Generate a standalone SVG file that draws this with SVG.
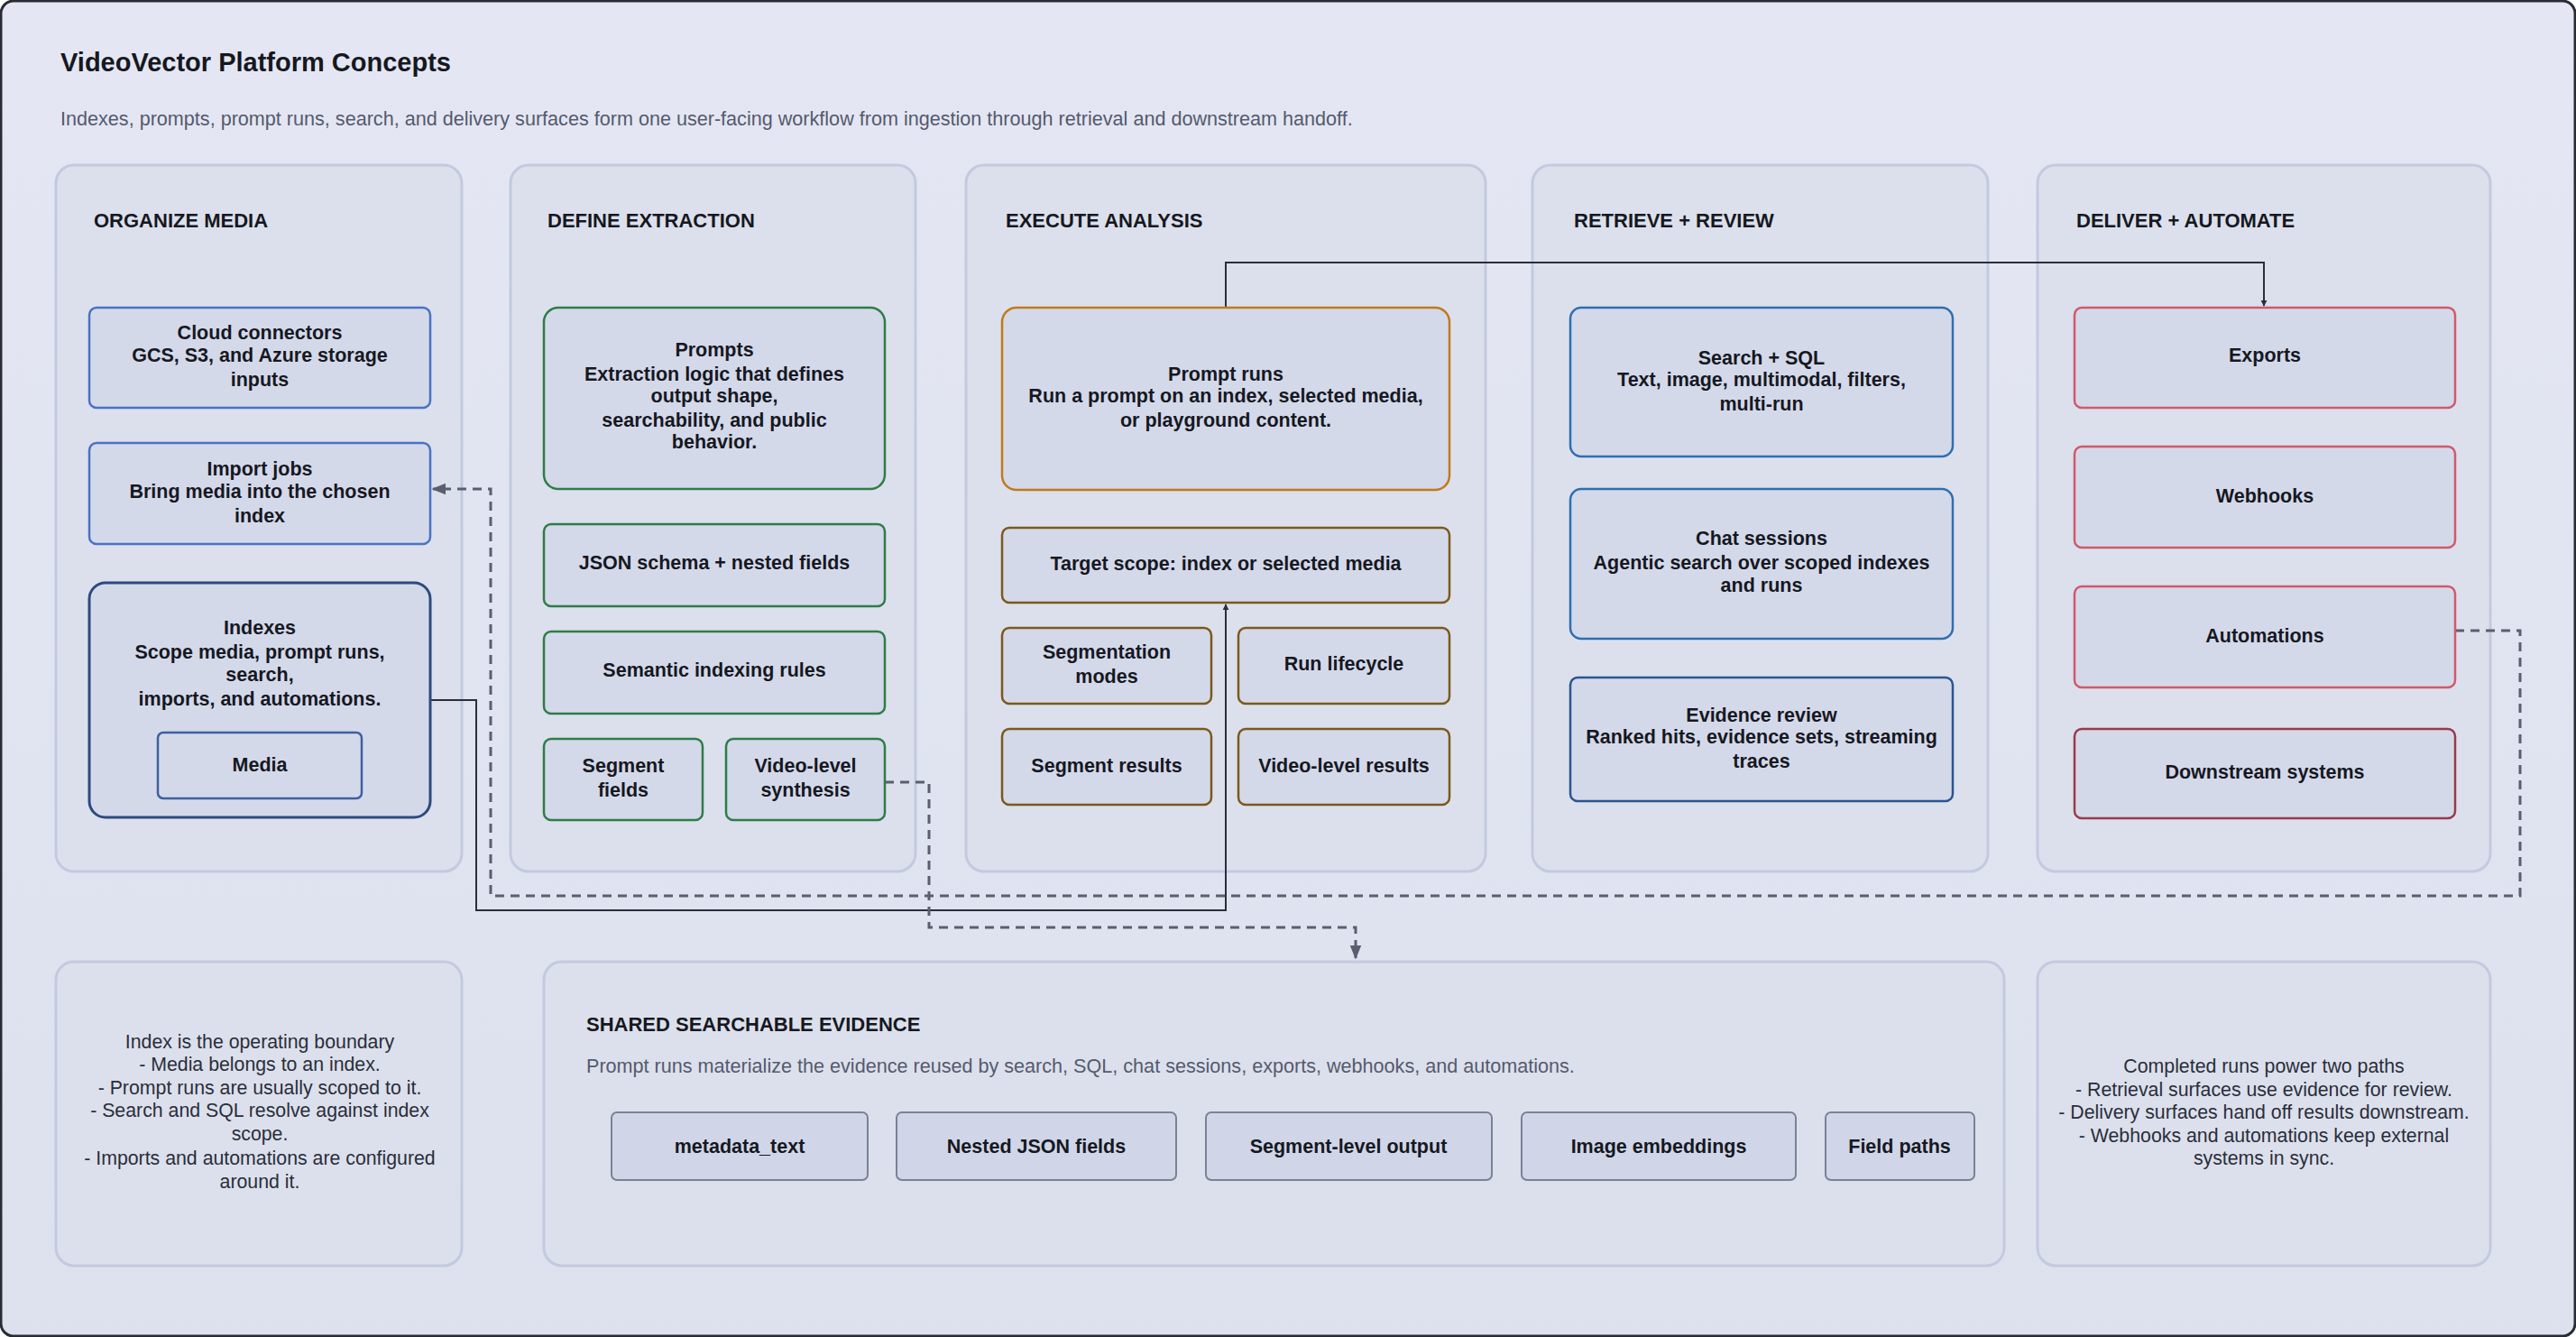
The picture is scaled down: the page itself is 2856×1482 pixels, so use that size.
<svg xmlns="http://www.w3.org/2000/svg" width="2856" height="1482" viewBox="0 0 2856 1482">
<defs>
<linearGradient id="bg" x1="0" y1="0" x2="0" y2="1"><stop offset="0" stop-color="#e4e7f3"/><stop offset="1" stop-color="#dde1ee"/></linearGradient>
<marker id="ah" viewBox="0 0 10 10" refX="9" refY="5" markerWidth="7" markerHeight="7" orient="auto-start-reverse" markerUnits="userSpaceOnUse"><path d="M0,0 L10,5 L0,10 z" fill="#2a2e3a"/></marker>
<marker id="ahg" viewBox="0 0 10 10" refX="9" refY="5" markerWidth="16" markerHeight="16" orient="auto" markerUnits="userSpaceOnUse"><path d="M0,1 L10,5 L0,9 z" fill="#5a5f70"/></marker>
</defs>
<style>
text{font-family:"Liberation Sans",Arial,sans-serif;}
.col{fill:#dce0ec;stroke:#c3c9df;stroke-width:3}
.ct{font-size:22px;font-weight:bold;fill:#16181f}
.n{fill:#d4d9ea;stroke-width:2.5}
.nt{font-size:21.5px;font-weight:bold;fill:#16181f;text-anchor:middle}
.b1{stroke:#4a72c4}.b1d{stroke:#2d4a80;stroke-width:3}.b1m{stroke:#3f5fa0}
.g{stroke:#2e7d46}.o{stroke:#c07a1a}.br{stroke:#7a5a1a}
.bl{stroke:#2f6fb0}.bld{stroke:#2a5590}.r{stroke:#d05a6a}.rd{stroke:#9a3a4a}
.note{font-size:21.3px;fill:#2a2e3a;text-anchor:middle}
.chip{fill:#d0d6e8;stroke:#7a8296;stroke-width:2}
.solid{fill:none;stroke:#2a2e3a;stroke-width:2}
.dash{fill:none;stroke:#5a5f70;stroke-width:3;stroke-dasharray:10 7}
.sub{font-size:21.6px;fill:#555a6e}
</style>
<rect x="1" y="1" width="2854" height="1480" rx="14" fill="url(#bg)" stroke="#2a2c34" stroke-width="3"/>
<text x="67" y="79" style="font-size:29px;font-weight:bold;fill:#16181f">VideoVector Platform Concepts</text>
<text class="sub" x="67" y="139">Indexes, prompts, prompt runs, search, and delivery surfaces form one user-facing workflow from ingestion through retrieval and downstream handoff.</text>

<g id="col-organize"><rect class="col" x="62" y="183" width="450" height="783" rx="20"/><text class="ct" x="104" y="252">ORGANIZE MEDIA</text></g>
<g id="col-define"><rect class="col" x="566" y="183" width="449" height="783" rx="20"/><text class="ct" x="607" y="252">DEFINE EXTRACTION</text></g>
<g id="col-execute"><rect class="col" x="1071" y="183" width="576" height="783" rx="20"/><text class="ct" x="1115" y="252">EXECUTE ANALYSIS</text></g>
<g id="col-retrieve"><rect class="col" x="1699" y="183" width="505" height="783" rx="20"/><text class="ct" x="1745" y="252">RETRIEVE + REVIEW</text></g>
<g id="col-deliver"><rect class="col" x="2259" y="183" width="502" height="783" rx="20"/><text class="ct" x="2302" y="252">DELIVER + AUTOMATE</text></g>

<g id="connectors">
<path class="solid" d="M1359,341 V291 H2510 V339" marker-end="url(#ah)"/>
<path class="solid" d="M477,776 H528 V1009 H1359 V670" marker-end="url(#ah)"/>
<path class="dash" d="M981,867 H1030 V1028 H1503 V1062" marker-end="url(#ahg)"/>
<path class="dash" d="M2722,699 H2794 V993 H544 V542 H480" marker-end="url(#ahg)"/>
</g>

<g id="n-cloud"><rect class="n b1" x="99" y="341" width="378" height="111" rx="8"/><text class="nt" x="288" y="376">Cloud connectors</text><text class="nt" x="288" y="401">GCS, S3, and Azure storage</text><text class="nt" x="288" y="428">inputs</text></g>
<g id="n-import"><rect class="n b1" x="99" y="491" width="378" height="112" rx="8"/><text class="nt" x="288" y="527">Import jobs</text><text class="nt" x="288" y="552">Bring media into the chosen</text><text class="nt" x="288" y="579">index</text></g>
<g id="n-indexes"><rect class="n b1d" x="99" y="646" width="378" height="260" rx="18"/><text class="nt" x="288" y="703">Indexes</text><text class="nt" x="288" y="730">Scope media, prompt runs,</text><text class="nt" x="288" y="755">search,</text><text class="nt" x="288" y="782">imports, and automations.</text></g>
<g id="n-media"><rect class="n b1m" x="175" y="812" width="226" height="73" rx="6"/><text class="nt" x="288" y="855">Media</text></g>

<g id="n-prompts"><rect class="n g" x="603" y="341" width="378" height="201" rx="16"/><text class="nt" x="792" y="395">Prompts</text><text class="nt" x="792" y="422">Extraction logic that defines</text><text class="nt" x="792" y="446">output shape,</text><text class="nt" x="792" y="473">searchability, and public</text><text class="nt" x="792" y="497">behavior.</text></g>
<g id="n-json"><rect class="n g" x="603" y="581" width="378" height="91" rx="8"/><text class="nt" x="792" y="631">JSON schema + nested fields</text></g>
<g id="n-semantic"><rect class="n g" x="603" y="700" width="378" height="91" rx="8"/><text class="nt" x="792" y="750">Semantic indexing rules</text></g>
<g id="n-segfields"><rect class="n g" x="603" y="819" width="176" height="90" rx="8"/><text class="nt" x="691" y="856">Segment</text><text class="nt" x="691" y="883">fields</text></g>
<g id="n-videosynth"><rect class="n g" x="805" y="819" width="176" height="90" rx="8"/><text class="nt" x="893" y="856">Video-level</text><text class="nt" x="893" y="883">synthesis</text></g>

<g id="n-promptruns"><rect class="n o" x="1111" y="341" width="496" height="202" rx="16"/><text class="nt" x="1359" y="422">Prompt runs</text><text class="nt" x="1359" y="446">Run a prompt on an index, selected media,</text><text class="nt" x="1359" y="473">or playground content.</text></g>
<g id="n-target"><rect class="n br" x="1111" y="585" width="496" height="83" rx="8"/><text class="nt" x="1359" y="632">Target scope: index or selected media</text></g>
<g id="n-segmodes"><rect class="n br" x="1111" y="696" width="232" height="84" rx="8"/><text class="nt" x="1227" y="730">Segmentation</text><text class="nt" x="1227" y="757">modes</text></g>
<g id="n-lifecycle"><rect class="n br" x="1373" y="696" width="234" height="84" rx="8"/><text class="nt" x="1490" y="743">Run lifecycle</text></g>
<g id="n-segresults"><rect class="n br" x="1111" y="808" width="232" height="84" rx="8"/><text class="nt" x="1227" y="856">Segment results</text></g>
<g id="n-videoresults"><rect class="n br" x="1373" y="808" width="234" height="84" rx="8"/><text class="nt" x="1490" y="856">Video-level results</text></g>

<g id="n-search"><rect class="n bl" x="1741" y="341" width="424" height="165" rx="12"/><text class="nt" x="1953" y="404">Search + SQL</text><text class="nt" x="1953" y="428">Text, image, multimodal, filters,</text><text class="nt" x="1953" y="455">multi-run</text></g>
<g id="n-chat"><rect class="n bl" x="1741" y="542" width="424" height="166" rx="12"/><text class="nt" x="1953" y="604">Chat sessions</text><text class="nt" x="1953" y="631">Agentic search over scoped indexes</text><text class="nt" x="1953" y="656">and runs</text></g>
<g id="n-evidence"><rect class="n bld" x="1741" y="751" width="424" height="137" rx="8"/><text class="nt" x="1953" y="800">Evidence review</text><text class="nt" x="1953" y="824">Ranked hits, evidence sets, streaming</text><text class="nt" x="1953" y="851">traces</text></g>

<g id="n-exports"><rect class="n r" x="2300" y="341" width="422" height="111" rx="8"/><text class="nt" x="2511" y="401">Exports</text></g>
<g id="n-webhooks"><rect class="n r" x="2300" y="495" width="422" height="112" rx="8"/><text class="nt" x="2511" y="557">Webhooks</text></g>
<g id="n-automations"><rect class="n r" x="2300" y="650" width="422" height="112" rx="8"/><text class="nt" x="2511" y="712">Automations</text></g>
<g id="n-downstream"><rect class="n rd" x="2300" y="808" width="422" height="99" rx="8"/><text class="nt" x="2511" y="863">Downstream systems</text></g>

<g id="note-index"><rect class="col" x="62" y="1066" width="450" height="337" rx="20"/>
<text class="note" x="288" y="1162">Index is the operating boundary</text><text class="note" x="288" y="1187">- Media belongs to an index.</text><text class="note" x="288" y="1213">- Prompt runs are usually scoped to it.</text><text class="note" x="288" y="1238">- Search and SQL resolve against index</text><text class="note" x="288" y="1264">scope.</text><text class="note" x="288" y="1291">- Imports and automations are configured</text><text class="note" x="288" y="1317">around it.</text></g>

<g id="shared-evidence"><rect class="col" x="603" y="1066" width="1619" height="337" rx="20"/>
<text class="ct" x="650" y="1143">SHARED SEARCHABLE EVIDENCE</text>
<text class="sub" x="650" y="1189">Prompt runs materialize the evidence reused by search, SQL, chat sessions, exports, webhooks, and automations.</text>
<rect class="chip" x="678" y="1233" width="284" height="75" rx="6"/><text class="nt" x="820" y="1278">metadata_text</text>
<rect class="chip" x="994" y="1233" width="310" height="75" rx="6"/><text class="nt" x="1149" y="1278">Nested JSON fields</text>
<rect class="chip" x="1337" y="1233" width="317" height="75" rx="6"/><text class="nt" x="1495" y="1278">Segment-level output</text>
<rect class="chip" x="1687" y="1233" width="304" height="75" rx="6"/><text class="nt" x="1839" y="1278">Image embeddings</text>
<rect class="chip" x="2024" y="1233" width="165" height="75" rx="6"/><text class="nt" x="2106" y="1278">Field paths</text></g>

<g id="note-runs"><rect class="col" x="2259" y="1066" width="502" height="337" rx="20"/>
<text class="note" x="2510" y="1189">Completed runs power two paths</text><text class="note" x="2510" y="1215">- Retrieval surfaces use evidence for review.</text><text class="note" x="2510" y="1240">- Delivery surfaces hand off results downstream.</text><text class="note" x="2510" y="1266">- Webhooks and automations keep external</text><text class="note" x="2510" y="1291">systems in sync.</text></g>
</svg>
